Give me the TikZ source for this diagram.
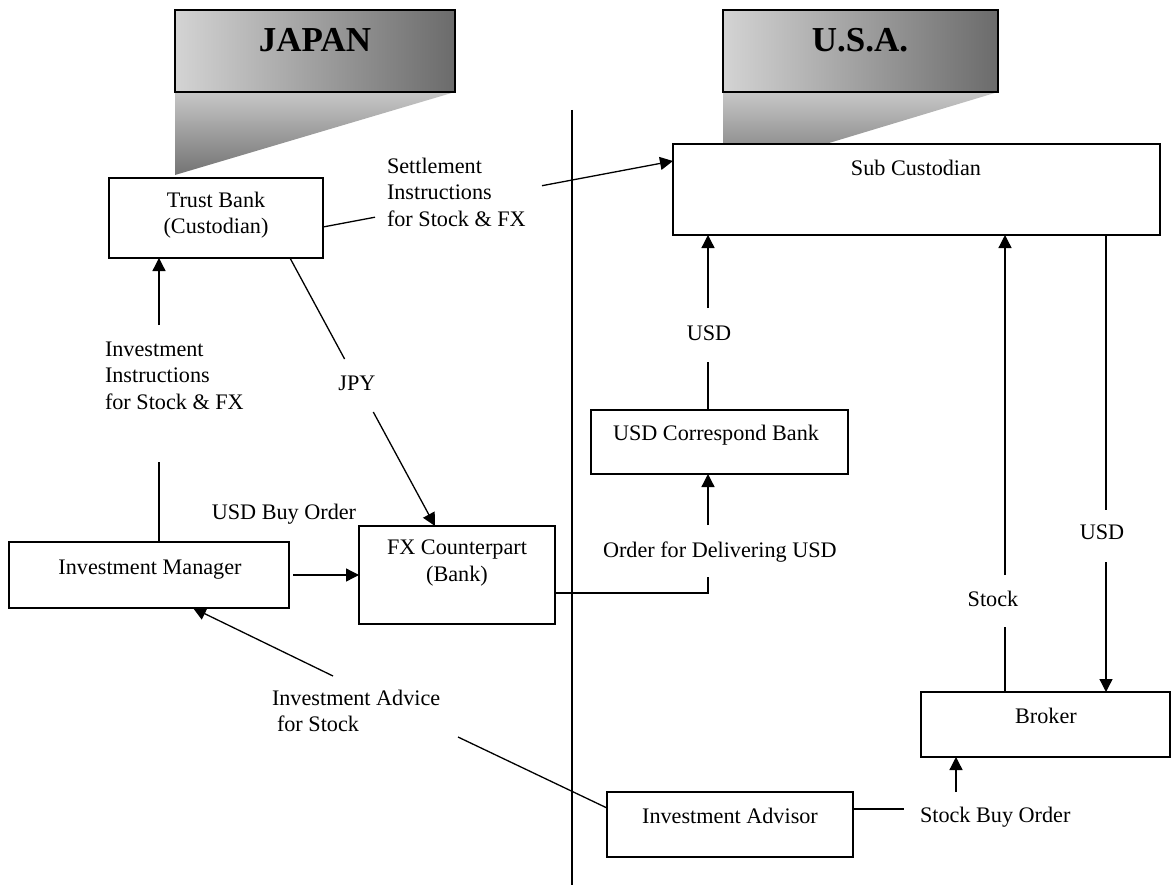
\documentclass[tikz,border=0pt]{standalone}
\usepackage{fontspec}
\setmainfont{Liberation Serif}
\usetikzlibrary{arrows.meta}
\begin{document}
\begin{tikzpicture}[x=1pt,y=-1pt,
  every node/.style={font=\fontsize{22.2}{26.5}\selectfont, inner sep=0pt, outer sep=0pt},
  box/.style={draw, line width=1.3pt, fill=white, anchor=north west},
  ln/.style={line width=1.3pt},
  arr/.style={line width=1.3pt, -{Triangle[length=13pt,width=13pt]}},
  banner/.style={font=\bfseries\fontsize{35}{40}\selectfont, anchor=base},
  lbl/.style={anchor=north west, align=left}
]
\useasboundingbox (0,0) rectangle (1172,888);

% banners
\shade[top color=black!22, bottom color=black!55] (175,92) -- (455,92) -- (175,175) -- cycle;
\shadedraw[left color=black!17, right color=black!58, line width=1.3pt] (175,10) rectangle (455,92);
\node[banner] (japan) at (315,52) {JAPAN};
\shade[top color=black!22, bottom color=black!55] (723,92) -- (998,92) -- (723,175) -- cycle;
\shadedraw[left color=black!17, right color=black!58, line width=1.3pt] (723,10) rectangle (998,92);
\node[banner] (usa) at (860,52) {U.S.A.};

% divider
\draw[ln] (572,110) -- (572,885);

% boxes
\node[box, minimum width=214pt, minimum height=80pt] (tb) at (109,178) {};
\node[box, minimum width=487pt, minimum height=91pt] (subc) at (673,144) {};
\node[box, minimum width=257pt, minimum height=64pt] (cb) at (591,410) {};
\node[box, minimum width=196pt, minimum height=98pt] (fx) at (359,526) {};
\node[box, minimum width=280pt, minimum height=66pt] (im) at (9,542) {};
\node[box, minimum width=249pt, minimum height=65pt] (br) at (921,692) {};
\node[box, minimum width=246pt, minimum height=65pt] (ia) at (607,792) {};

% box texts
\node[anchor=north, align=center] (tbt) at (216,191.8) {Trust Bank\\(Custodian)};
\node[anchor=base] (subct) at (916,175) {Sub Custodian};
\node[anchor=base] (cbt) at (716,440) {USD Correspond Bank};
\node[anchor=north, align=center] (fxt) at (457,539.8) {FX Counterpart\\(Bank)};
\node[anchor=base] (imt) at (150,574) {Investment Manager};
\node[anchor=base] (brt) at (1046,723) {Broker};
\node[anchor=base] (iat) at (730,823) {Investment Advisor};

% labels
\node[lbl] (settle) at (387,157.7) {Settlement\\Instructions\\for Stock \& FX};
\node[lbl] (ii) at (105,341.7) {Investment\\Instructions\\for Stock \& FX};
\node[anchor=base] (jpy) at (357,390) {JPY};
\node[anchor=base] (usdbuy) at (284,519) {USD Buy Order};
\node[anchor=base west] (order) at (603,557) {Order for Delivering USD};
\node[anchor=base] (usd1) at (709,340) {USD};
\node[anchor=base] (usd2) at (1102,539) {USD};
\node[anchor=base] (stock) at (993,606) {Stock};
\node[lbl] (advice) at (272,689.7) {Investment Advice\\\hspace*{5pt}for Stock};
\node[anchor=base west] (sbo) at (920,822) {Stock Buy Order};

% free ends of connectors
\coordinate (s1) at (375,217.2);
\coordinate (s2) at (542,185.7);
\coordinate (iiB) at (159,462);
\coordinate (iiT) at (159,325);
\coordinate (j1) at (344.6,359);
\coordinate (j2) at (373.3,412);
\coordinate (o1) at (708,577);
\coordinate (o2) at (708,525);
\coordinate (u1) at (708,362);
\coordinate (u2) at (708,308);
\coordinate (k1) at (1005,627);
\coordinate (k2) at (1005,575);
\coordinate (d1) at (1106,510);
\coordinate (d2) at (1106,562);
\coordinate (b1) at (904,809);
\coordinate (b2) at (956,792);
\coordinate (a1) at (458,737);
\coordinate (a2) at (333,676);

% connectors
\draw[ln] (tb.east |- 0,227) -- (s1);
\draw[arr] (s2) -- (subc.west |- 0,161);
\draw[ln] (im.north -| iiB) -- (iiB);
\draw[arr] (iiT) -- (tb.south -| iiT);
\draw[ln] (tb.south -| 290,0) -- (j1);
\draw[arr] (j2) -- (fx.north -| 435,0);
\draw[arr, shorten <=4pt] (im.east) -- (fx.west |- im.east);
\draw[ln] (fx.east |- 0,593) -| (o1);
\draw[arr] (o2) -- (cb.south -| o2);
\draw[ln] (cb.north -| u1) -- (u1);
\draw[arr] (u2) -- (subc.south -| u2);
\draw[ln] (br.north -| k1) -- (k1);
\draw[arr] (k2) -- (subc.south -| k2);
\draw[ln] (subc.south -| d1) -- (d1);
\draw[arr] (d2) -- (br.north -| d2);
\draw[ln] (ia.east |- 0,809) -- (b1);
\draw[arr] (b2) -- (br.south -| b2);
\draw[ln] (ia.west |- 0,808) -- (a1);
\draw[arr] (a2) -- (im.south -| 193,0);
\end{tikzpicture}
\end{document}
